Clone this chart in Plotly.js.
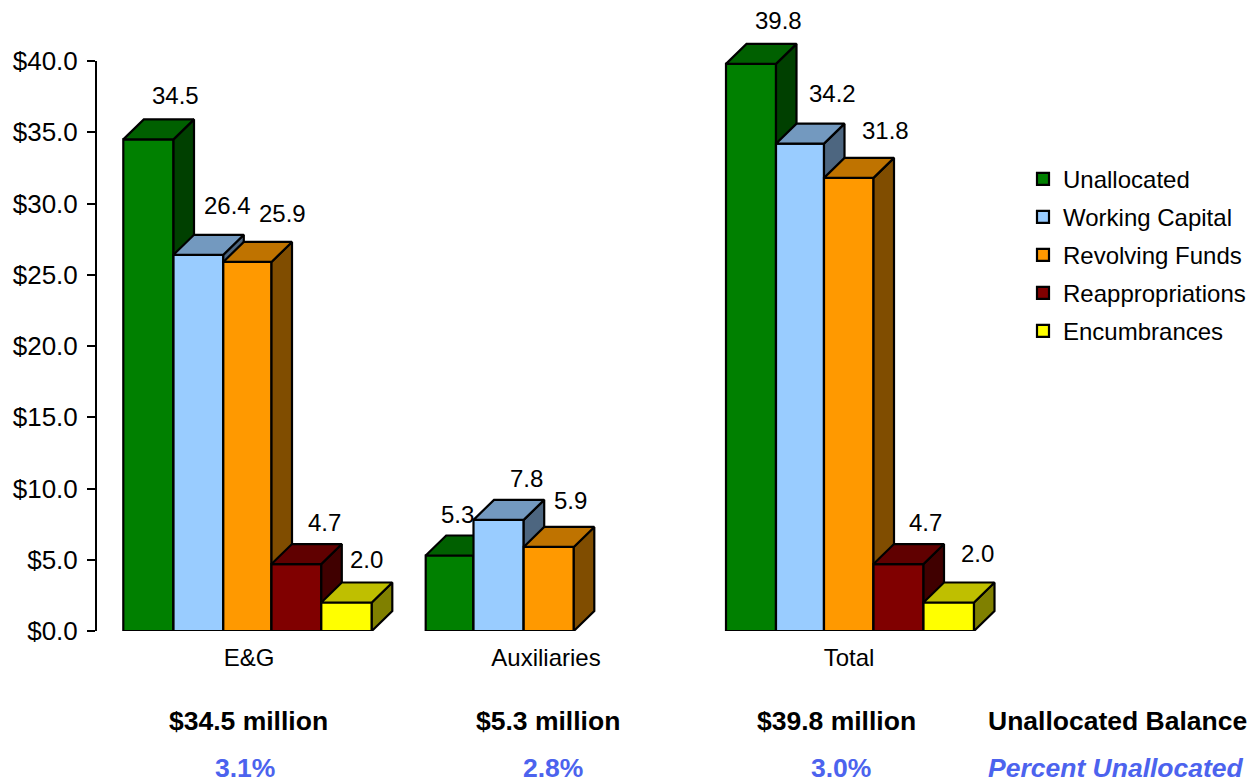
<!DOCTYPE html>
<html><head><meta charset="utf-8">
<script src="https://cdn.plot.ly/plotly-3.0.1.min.js"></script>
<style>html,body{margin:0;padding:0;background:#fff}#c{width:1257px;height:783px}</style>
</head><body><div id="c"></div>
<script>
// ---- data ----
const groups = ['E&G', 'Auxiliaries', 'Total'];
const seriesNames = ['Unallocated', 'Working Capital', 'Revolving Funds', 'Reappropriations', 'Encumbrances'];
const unallocated = [34.5, 5.3, 39.8];
const workingCapital = [26.4, 7.8, 34.2];
const revolvingFunds = [25.9, 5.9, 31.8];
const reappropriations = [4.7, null, 4.7];
const encumbrances = [2.0, null, 2.0];
const balanceLabels = ['$34.5 million', '$5.3 million', '$39.8 million'];
const percentLabels = ['3.1%', '2.8%', '3.0%'];
const yTicks = [0, 5, 10, 15, 20, 25, 30, 35, 40];

// ---- styles / layout constants ----
const W = 1257, H = 783;
const FONT = '"Liberation Sans", Arial, sans-serif';
const front = ['#008000', '#99CCFF', '#FF9900', '#800000', '#FFFF00'];
const topC = ['#006000', '#7399BF', '#BF7300', '#600000', '#BFBF00'];
const sideC = ['#004000', '#4D6680', '#804D00', '#400000', '#808000'];
const edges = [
  [123.3, 173.5, 223.3, 271.5, 321.3, 371.8],
  [425.7, 473.5, 523.7, 573.8],
  [726, 776, 824, 873.5, 923.5, 974]
];
const plotL = 96, plotR = 1000, plotB = 631, y40 = 61;
const yMax = 44;
const pxPerUnit = (plotB - y40) / 40;
const plotT = plotB - yMax * pxPerUnit;
const depthX = 20.5, depthY = 20 / pxPerUnit;
const catX = [249, 546, 849];
const labelPx = [
  [[175, 95], [227, 205], [282, 213], [324, 522], [366, 559]],
  [[457, 514], [526, 478], [570, 501]],
  [[778, 21], [832, 93], [885, 130], [925, 522], [977, 553]]
];
const balX = [248, 548, 836], pctX = [245, 553, 841];

const values = [unallocated, workingCapital, revolvingFunds, reappropriations, encumbrances];
const yPx = v => plotB - v * pxPerUnit;

const traces = [], annotations = [];
values.forEach((vals, s) => {
  const bx = [], by = [], bw = [];
  const tx = [], ty = [], sx = [], sy = [];
  vals.forEach((v, g) => {
    if (v === null) return;
    const x0 = edges[g][s], x1 = edges[g][s + 1];
    bx.push((x0 + x1) / 2); by.push(v); bw.push(x1 - x0);
    tx.push(x0, x1, x1 + depthX, x0 + depthX, x0, null);
    ty.push(v, v, v + depthY, v + depthY, v, null);
    sx.push(x1, x1 + depthX, x1 + depthX, x1, x1, null);
    sy.push(0, depthY, v + depthY, v, 0, null);
    const [lx, ly] = labelPx[g][s];
    annotations.push({
      x: lx, y: v, xref: 'x', yref: 'y', yshift: yPx(v) - ly, showarrow: false,
      text: v.toFixed(1), font: {family: FONT, size: 24, color: '#000'},
      xanchor: 'center', yanchor: 'middle'
    });
  });
  const poly = (x, y, fill) => ({
    type: 'scatter', mode: 'lines', x, y, fill: 'toself', fillcolor: fill,
    line: {color: '#000', width: 2.2}, showlegend: false, hoverinfo: 'skip',
    zorder: s
  });
  traces.push(poly(sx, sy, sideC[s]));
  traces.push(poly(tx, ty, topC[s]));
  traces.push({
    type: 'bar', name: seriesNames[s], x: bx, y: by, width: bw,
    marker: {color: front[s], line: {color: '#000', width: 2.2}},
    legendgroup: 'g' + s, zorder: s
  });
});

const toPaperX = x => (x - plotL) / (plotR - plotL);
const toPaperY = y => (plotB - y) / (plotB - plotT);
const boldBlack = {family: FONT, size: 26.5, color: '#000'};
const boldBlue = {family: FONT, size: 26.5, color: '#4C63EE'};
balanceLabels.forEach((t, i) => annotations.push({
  text: '<b>' + t + '</b>', x: toPaperX(balX[i]), y: toPaperY(721), xref: 'paper', yref: 'paper',
  showarrow: false, xanchor: 'center', yanchor: 'middle', font: boldBlack
}));
percentLabels.forEach((t, i) => annotations.push({
  text: '<b>' + t + '</b>', x: toPaperX(pctX[i]), y: toPaperY(768), xref: 'paper', yref: 'paper',
  showarrow: false, xanchor: 'center', yanchor: 'middle', font: boldBlue
}));
annotations.push({
  text: '<b>Unallocated Balance</b>', x: toPaperX(986), y: toPaperY(721), xref: 'paper', yref: 'paper',
  showarrow: false, xanchor: 'left', yanchor: 'middle', font: boldBlack
});
annotations.push({
  text: '<b><i>Percent Unallocated</i></b>', x: toPaperX(986), y: toPaperY(768), xref: 'paper', yref: 'paper',
  showarrow: false, xanchor: 'left', yanchor: 'middle', font: boldBlue
});

const layout = {
  width: W, height: H, showlegend: true, barmode: 'overlay',
  paper_bgcolor: '#fff', plot_bgcolor: '#fff',
  font: {family: FONT, color: '#000'},
  margin: {l: plotL, r: W - plotR, t: plotT, b: H - plotB, pad: 0},
  hovermode: false,
  xaxis: {
    range: [plotL, plotR], tickmode: 'array', tickvals: catX, ticktext: groups,
    ticks: '', showgrid: false, zeroline: false, showline: false, fixedrange: true,
    tickfont: {family: FONT, size: 24, color: '#000'}, ticklabelstandoff: 10
  },
  yaxis: {
    range: [0, yMax], tickmode: 'array', tickvals: yTicks,
    ticktext: yTicks.map(v => '$' + v.toFixed(1)),
    ticks: 'outside', ticklen: 8, tickwidth: 2, tickcolor: '#000',
    showline: false,
    showgrid: false, zeroline: false, fixedrange: true,
    tickfont: {family: FONT, size: 26, color: '#000'}, ticklabelstandoff: 4
  },
  shapes: [{type: 'line', xref: 'paper', yref: 'y', x0: 0, x1: 0, y0: 0, y1: 40,
            line: {color: '#000', width: 2}}],
  legend: {
    xref: 'container', yref: 'container', x: 1023 / W, y: 1 - 156.7 / H,
    xanchor: 'left', yanchor: 'top', traceorder: 'grouped', tracegroupgap: 3.8,
    font: {family: FONT, size: 24, color: '#000'}, bgcolor: 'rgba(0,0,0,0)', borderwidth: 0
  },
  annotations
};
Plotly.newPlot('c', traces, layout, {displayModeBar: false, staticPlot: true});
</script></body></html>
